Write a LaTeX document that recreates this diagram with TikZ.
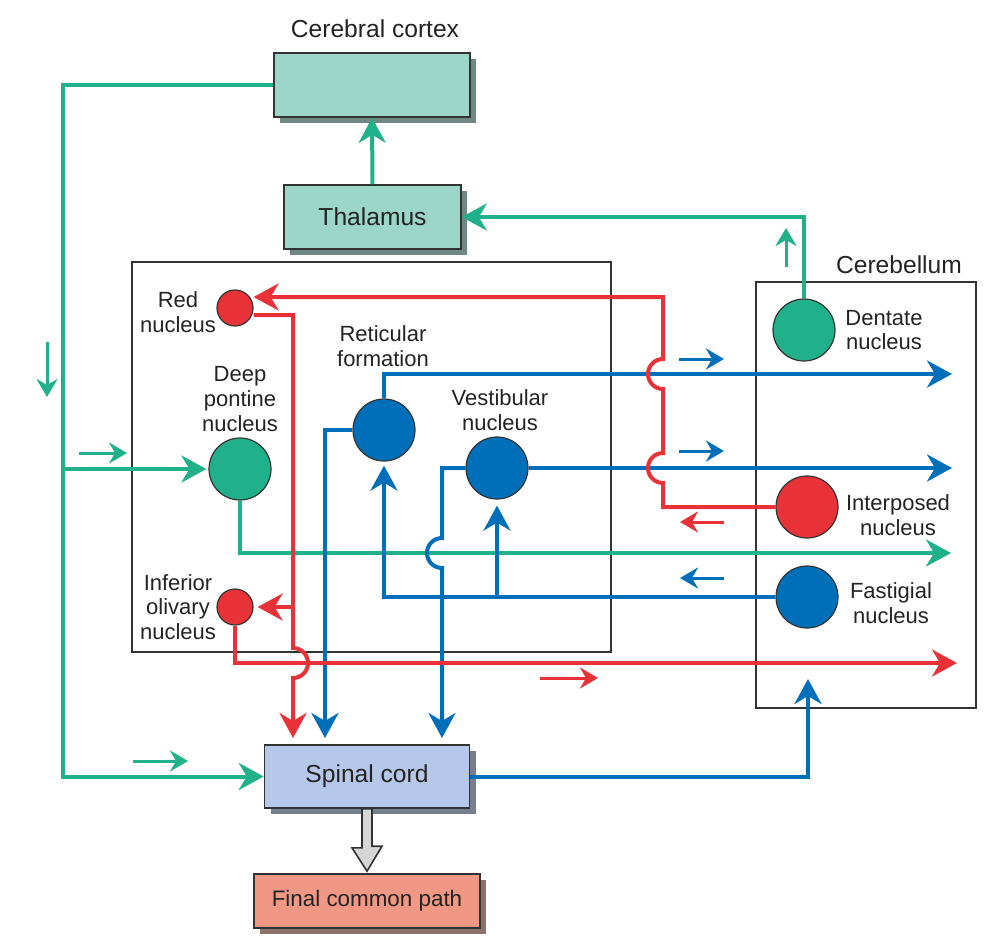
\documentclass[tikz,border=0pt]{standalone}
\usepackage{fontspec}
\setmainfont{Liberation Sans}
\definecolor{nGreen}{RGB}{32,176,138}
\definecolor{nBlue}{RGB}{0,111,186}
\definecolor{nRed}{RGB}{232,50,56}
\definecolor{cortexFill}{RGB}{155,214,201}
\definecolor{cortexShade}{RGB}{112,136,131}
\definecolor{spinalFill}{RGB}{182,200,233}
\definecolor{spinalShade}{RGB}{120,126,142}
\definecolor{finalFill}{RGB}{240,152,132}
\definecolor{finalShade}{RGB}{140,112,106}
\definecolor{lineDark}{RGB}{50,52,52}
\definecolor{txt}{RGB}{35,35,35}
\usetikzlibrary{arrows.meta,positioning,shapes.geometric,shadows}

\begin{document}
\begin{tikzpicture}[x=0.5pt,y=-0.5pt,
    box/.style={draw=lineDark, line width=0.8pt, text=txt, font=\fontsize{12.3}{14}\selectfont,
      drop shadow={shadow xshift=3pt, shadow yshift=-3pt, opacity=1, fill=#1}},
    region/.style={draw=lineDark, line width=1pt, inner sep=0pt},
    nuc/.style={circle, draw=lineDark, line width=0.6pt, minimum size=31pt, inner sep=0pt},
    lbl/.style={align=center, text=txt, font=\fontsize{11}{12.3}\selectfont},
    gline/.style={draw=nGreen, line width=2pt},
    bline/.style={draw=nBlue, line width=2pt},
    rline/.style={draw=nRed, line width=2pt},
    bigtip/.style={-{Stealth[length=12.5pt, width=13.5pt, inset=4pt]}},
    smalltip/.style={line width=1.5pt, -{Stealth[length=9pt, width=10.5pt, inset=3pt]}}]
    \useasboundingbox (0,0) rectangle (997,938);

    % Boxes
    \node[region, minimum width=239.5pt, minimum height=195pt] (stem) at (371.5,457) {};
    \node[region, minimum width=110pt, minimum height=213pt] (cereb) at (866,495) {};
    \node[lbl, font=\fontsize{12.3}{14}\selectfont] (cerebLbl) at (899,265) {Cerebellum};

    \node[box=cortexShade, fill=cortexFill, minimum width=98pt, minimum height=32pt] (cortex) at (372,85) {};
    \node[lbl, font=\fontsize{12.3}{14}\selectfont] (cortexLbl) at (375,29) {Cerebral cortex};
    \node[box=cortexShade, fill=cortexFill, minimum width=88.5pt, minimum height=32pt] (thal) at (372.5,217) {Thalamus};
    \node[box=spinalShade, fill=spinalFill, minimum width=102.5pt, minimum height=31.5pt] (spinal) at (367,776.5) {Spinal cord};
    \node[box=finalShade, fill=finalFill, minimum width=113pt, minimum height=27pt, font=\fontsize{11.2}{13}\selectfont] (final) at (367,901) {Final common path};

    % Nuclei
    \node[nuc, fill=nRed, minimum size=18pt] (rednuc) at (235,308) {};
    \node[nuc, fill=nRed, minimum size=18pt] (olive) at (235,607) {};
    \node[nuc, fill=nGreen] (pontine) at (240,469) {};
    \node[nuc, fill=nBlue] (retic) at (384,430) {};
    \node[nuc, fill=nBlue] (vestib) at (497,468) {};
    \node[nuc, fill=nGreen] (dentate) at (804,330) {};
    \node[nuc, fill=nRed] (interp) at (807,507) {};
    \node[nuc, fill=nBlue] (fastig) at (807,597) {};

    \node[lbl] (rednucLbl) at (178,312) {Red\\nucleus};
    \node[lbl] (oliveLbl) at (178,607) {Inferior\\olivary\\nucleus};
    \node[lbl] (pontineLbl) at (240,399) {Deep\\pontine\\nucleus};
    \node[lbl] (reticLbl) at (383,346) {Reticular\\formation};
    \node[lbl] (vestibLbl) at (500,410) {Vestibular\\nucleus};
    \node[lbl] (dentateLbl) at (884,330) {Dentate\\nucleus};
    \node[lbl] (interpLbl) at (898,515) {Interposed\\nucleus};
    \node[lbl] (fastigLbl) at (891,603) {Fastigial\\nucleus};

    % Free ends and line jumps
    \coordinate (gLeft) at (63,85);
    \coordinate (gEnd) at (951,553);
    \coordinate (bEndA) at (952,374);
    \coordinate (bEndB) at (952,468);
    \coordinate (rEnd) at (957,663);
    \coordinate (cbIn) at (808,679);
    \coordinate (spIn1) at (293,738);
    \coordinate (spIn2) at (325,738);
    \coordinate (spIn3) at (442,738);
    \coordinate (jumpA) at (663,483);
    \coordinate (jumpB) at (663,389);
    \coordinate (jumpC) at (293,648);
    \coordinate (jumpD) at (442,538);

    % Green pathways
    \draw[gline, bigtip] (cortex.west) -| (gLeft |- spinal.west) -- (spinal.west);
    \draw[gline, bigtip, shorten >=1pt] (gLeft |- pontine.west) -- (pontine.west);
    \draw[gline, bigtip] (thal.north) -- (cortex.south);
    \draw[gline, bigtip] (dentate.north) |- (thal.east);
    \draw[gline, bigtip] (pontine.south) |- (gEnd);

    % Blue pathways
    \draw[bline, bigtip] (retic.north) |- (bEndA);
    \draw[bline, bigtip] (vestib.east) -- (bEndB);
    \draw[bline, bigtip] (retic.west) -| (spIn2);
    \draw[bline, bigtip] (vestib.west) -| (jumpD) arc[start angle=90, end angle=270, radius=7.5pt] -- (spIn3);
    \draw[bline, bigtip, shorten >=2pt] (fastig.west) -| (retic.south);
    \draw[bline, bigtip, shorten >=3pt] (vestib.south |- fastig.west) -- (vestib.south);
    \draw[bline, bigtip] (spinal.east) -| (cbIn);

    % Red pathways
    \draw[rline, bigtip] (interp.west) -| (jumpA) arc[start angle=-90, end angle=-270, radius=7.5pt]
      -- (jumpB) arc[start angle=-90, end angle=-270, radius=7.5pt] |- ([yshift=5.5pt]rednuc.east);
    \draw[rline, bigtip] ([yshift=-3.5pt]rednuc.east) -| (jumpC) arc[start angle=90, end angle=-90, radius=7.5pt] -- (spIn1);
    \draw[rline, bigtip, shorten >=2pt] (jumpC |- olive.east) -- (olive.east);
    \draw[rline, bigtip] (olive.south) |- (rEnd);

    % Direction marks
    \draw[smalltip, nGreen] (47,342) -- (47,397);
    \draw[smalltip, nGreen] (79,453) -- (127,453);
    \draw[smalltip, nGreen] (133,761) -- (188,761);
    \draw[smalltip, nGreen] (786,267) -- (786,228);
    \draw[smalltip, nBlue] (679,359) -- (724,359);
    \draw[smalltip, nBlue] (679,451) -- (724,451);
    \draw[smalltip, nRed] (724,522) -- (680,522);
    \draw[smalltip, nBlue] (724,578) -- (680,578);
    \draw[smalltip, nRed] (540,678) -- (598,678);

    % Output to the final common path
    \draw[line width=0.8pt, draw=lineDark, fill=black!16] ([xshift=-2.5pt]spinal.south) -- ++(0,39) -- ++(-10,0)
      -- ([yshift=1pt]final.north) -- ++(15,-25) -- ++(-10,0) -- ([xshift=2.5pt]spinal.south) -- cycle;
  \end{tikzpicture}
\end{document}
